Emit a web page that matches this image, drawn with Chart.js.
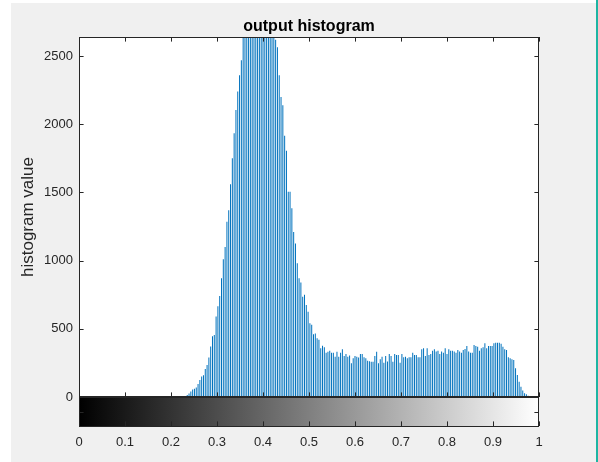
<!DOCTYPE html>
<html>
<head>
<meta charset="utf-8">
<title>output histogram</title>
<script src="https://cdn.jsdelivr.net/npm/chart.js@4.4.1/dist/chart.umd.min.js"></script>
<style>
  html, body { margin: 0; padding: 0; background: #fff; }
  canvas { display: block; }
</style>
</head>
<body>
<canvas id="histChart" width="598" height="462"></canvas>
<script>
// 256-bin histogram counts (bins 0..255 over [0, 1])
const counts = [
  0, 0, 0, 0, 0, 0, 0, 0, 0, 0, 0, 0, 0, 0, 0, 0, 0, 0, 0, 0,
  0, 0, 0, 0, 0, 0, 0, 0, 0, 0, 0, 0, 0, 0, 0, 0, 0, 0, 0, 0,
  0, 0, 0, 0, 0, 0, 0, 0, 0, 0, 0, 0, 0, 0, 0, 0, 0, 0, 0, 0,
  15, 25, 40, 55, 60, 70, 95, 125, 150, 160, 205, 235, 290, 370, 445, 455,
  590, 665, 740, 870, 1010, 1100, 1285, 1370, 1560, 1750, 1935, 2105, 2240, 2360, 2470,
  // peak, clipped at the top of the axes
  2700, 2850, 2980, 3100, 3200, 3280, 3330, 3360, 3370, 3350, 3310, 3250, 3170, 3080, 2980, 2870, 2760, 2680,
  2620, 2565, 2360, 2200, 2140, 1915, 1805, 1505, 1505, 1385, 1210, 1125, 980, 870, 840, 735,
  750, 675, 625, 540, 530, 460, 465, 430, 420,
  357, 375, 364, 325, 332, 340, 325, 325, 296, 332, 296, 325, 350, 300, 315, 296, 305, 247, 284, 300,
  296, 290, 315, 315, 292, 284, 266, 262, 258, 258, 300, 332, 247, 277, 296, 252, 300, 260, 315,
  300, 259, 315, 308, 308, 252, 315, 291, 296, 284, 291, 291, 325, 308, 308, 291, 291, 350, 357, 300,
  357, 308, 315, 340, 350, 333, 340, 315, 333, 325, 357, 315, 350, 340, 340, 333, 325, 345,
  333, 325, 345, 352, 374, 333, 325, 325, 381, 374, 369, 340, 357, 365, 394, 357, 374, 374, 374, 394,
  398, 398, 398, 390, 369, 350, 345, 291, 284, 277, 271, 210, 161, 112, 76, 47, 27, 20, 10,
  0, 0, 0, 0, 0, 0
];
const xTicks = [0, 0.1, 0.2, 0.3, 0.4, 0.5, 0.6, 0.7, 0.8, 0.9, 1];
const yTicks = [0, 500, 1000, 1500, 2000, 2500];
const yMax = 2640;
const titleText = 'output histogram';

const family = "'Liberation Sans', Arial, Helvetica, sans-serif";
const axisColor = '#262626';

// bin centres
const points = counts.map((c, i) => ({ x: i / (counts.length - 1), y: c }));

// MATLAB style box, inward ticks, title over the axes and the grey colour strip
const matlabFrame = {
  id: 'matlabFrame',
  beforeDraw(chart) {
    const { ctx, chartArea: a } = chart;
    ctx.save();
    ctx.fillStyle = '#fff';
    ctx.fillRect(0, 0, chart.width, chart.height);
    ctx.fillStyle = '#f0f0f0';
    ctx.fillRect(11, 3, 585, 459);
    ctx.fillStyle = '#1db5a3';
    ctx.fillRect(596, 0, 2, 462);
    ctx.fillStyle = '#fff';
    ctx.fillRect(a.left, a.top, a.right - a.left, a.bottom - a.top);
    ctx.restore();
  },
  afterDraw(chart) {
    const { ctx, chartArea: a, scales: { x, y } } = chart;
    const tl = 4.6;
    const stripTop = a.bottom, stripBottom = a.bottom + 29;
    ctx.save();

    // title centred on the axes box
    ctx.fillStyle = '#000';
    ctx.font = 'bold 16px ' + family;
    ctx.textAlign = 'center';
    ctx.textBaseline = 'middle';
    ctx.fillText(titleText, (a.left + a.right) / 2, a.top - 10);

    // grey strip
    const g = ctx.createLinearGradient(x.getPixelForValue(0), 0, x.getPixelForValue(1), 0);
    g.addColorStop(0, '#000');
    g.addColorStop(1, '#fff');
    ctx.fillStyle = g;
    ctx.fillRect(a.left, stripTop, a.right - a.left, stripBottom - stripTop);

    ctx.strokeStyle = axisColor;
    ctx.lineWidth = 1;
    ctx.strokeRect(a.left + 0.5, a.top + 0.5, a.right - a.left - 1, a.bottom - a.top);
    ctx.strokeRect(a.left + 0.5, stripTop + 0.5, a.right - a.left - 1, stripBottom - stripTop);
    ctx.lineWidth = 2;
    ctx.beginPath();
    ctx.moveTo(a.left, a.bottom);
    ctx.lineTo(a.right, a.bottom);
    ctx.stroke();

    ctx.lineWidth = 1;
    ctx.beginPath();
    xTicks.forEach(v => {
      const px = Math.round(x.getPixelForValue(v)) + 0.5;
      ctx.moveTo(px, a.top); ctx.lineTo(px, a.top + tl);
      ctx.moveTo(px, a.bottom); ctx.lineTo(px, a.bottom - tl);
      ctx.moveTo(px, stripBottom); ctx.lineTo(px, stripBottom - tl);
    });
    yTicks.forEach(v => {
      const py = Math.round(y.getPixelForValue(v)) + 0.5;
      ctx.moveTo(a.left, py); ctx.lineTo(a.left + tl, py);
      ctx.moveTo(a.right, py); ctx.lineTo(a.right - tl, py);
    });
    const mid = Math.round((stripTop + stripBottom) / 2) + 0.5;
    ctx.moveTo(a.left, mid); ctx.lineTo(a.left + tl, mid);
    ctx.moveTo(a.right, mid); ctx.lineTo(a.right - tl, mid);
    ctx.stroke();
    ctx.restore();
  }
};

new Chart(document.getElementById('histChart'), {
  type: 'bar',
  data: {
    datasets: [{
      data: points,
      backgroundColor: '#0072BD',
      borderWidth: 0,
      inflateAmount: 0,
      barThickness: 1
    }]
  },
  options: {
    responsive: false,
    animation: false,
    layout: { padding: { left: 0, right: 59, top: 37, bottom: 0 } },
    plugins: {
      legend: { display: false },
      tooltip: { enabled: false },
      title: { display: false }
    },
    scales: {
      x: {
        type: 'linear',
        min: 0,
        max: 1,
        offset: false,
        afterFit: s => { s.height = 65; },
        afterBuildTicks: s => { s.ticks = xTicks.map(v => ({ value: v })); },
        grid: { display: false, drawTicks: false },
        border: { display: false },
        ticks: {
          padding: 38,
          autoSkip: false,
          maxRotation: 0,
          color: axisColor,
          font: { family, size: 13 },
          callback: v => String(v)
        }
      },
      y: {
        min: 0,
        max: yMax,
        afterFit: s => { s.width = 79; },
        afterBuildTicks: s => { s.ticks = yTicks.map(v => ({ value: v })); },
        grid: { display: false, drawTicks: false },
        border: { display: false },
        ticks: {
          padding: 6,
          color: axisColor,
          font: { family, size: 13 },
          callback: v => String(v)
        },
        title: {
          display: true,
          text: 'histogram value',
          color: axisColor,
          font: { family, size: 17 },
          padding: { top: 18, bottom: 0 }
        }
      }
    }
  },
  plugins: [matlabFrame]
});
</script>
</body>
</html>
